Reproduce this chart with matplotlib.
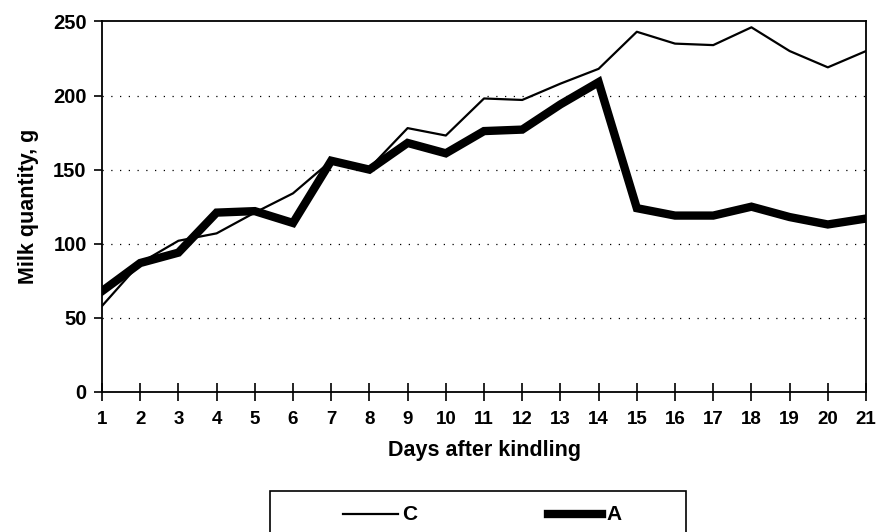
import matplotlib.pyplot as plt
from matplotlib.patches import Rectangle
from matplotlib.lines import Line2D

# data
days = list(range(1, 22))
milk_c = [58, 87, 102, 107, 121, 134, 156, 151, 178, 173, 198, 197, 208, 218,
          243, 235, 234, 246, 230, 219, 230]
milk_a = [68, 87, 94, 121, 122, 114, 156, 150, 168, 161, 176, 177, 194, 209,
          124, 119, 119, 125, 118, 113, 117]
y_ticks = [0, 50, 100, 150, 200, 250]

plt.rcParams['font.family'] = ['Liberation Sans', 'DejaVu Sans']
plt.rcParams['font.weight'] = 'bold'

fig = plt.figure(figsize=(8.77, 5.32), dpi=100)
ax = fig.add_axes([0.1163, 0.2632, 0.8712, 0.6966])

ax.plot(days, milk_c, color='black', lw=1.6, label='C')
ax.plot(days, milk_a, color='black', lw=6, label='A', solid_joinstyle='miter')

ax.set_xlim(1, 21)
ax.set_ylim(0, 250)
ax.set_xticks(days)
ax.set_yticks(y_ticks)
for v in y_ticks[1:-1]:
    ax.axhline(v, color='black', lw=0.9, ls=(0, (1, 6)), zorder=0)

ax.tick_params(axis='x', direction='inout', length=13, width=1.2, labelsize=13.5, pad=7)
ax.tick_params(axis='y', direction='out', length=6, width=1.2, labelsize=14.5, pad=5)
for s in ax.spines.values():
    s.set_linewidth(1.3)

ax.set_xlabel('Days after kindling', fontsize=15.5, fontweight='bold', labelpad=9)
ax.set_ylabel('Milk quantity, g', fontsize=15.5, fontweight='bold', labelpad=10)

# legend box, cut off at the bottom edge like the original
fig.patches.append(Rectangle((270 / 877, -0.02), 416 / 877, 0.02 + 41 / 532,
                             transform=fig.transFigure, fill=False,
                             edgecolor='black', lw=1.2))
yl = 1 - 514 / 532
fig.lines.append(Line2D([343 / 877, 398 / 877], [yl, yl], color='black', lw=1.6,
                        transform=fig.transFigure))
fig.lines.append(Line2D([548 / 877, 602 / 877], [yl, yl], color='black', lw=6,
                        transform=fig.transFigure))
fig.text(402 / 877, yl, 'C', fontsize=15, fontweight='bold', va='center')
fig.text(606 / 877, yl, 'A', fontsize=15, fontweight='bold', va='center')

fig.savefig('out.png', dpi=100)
